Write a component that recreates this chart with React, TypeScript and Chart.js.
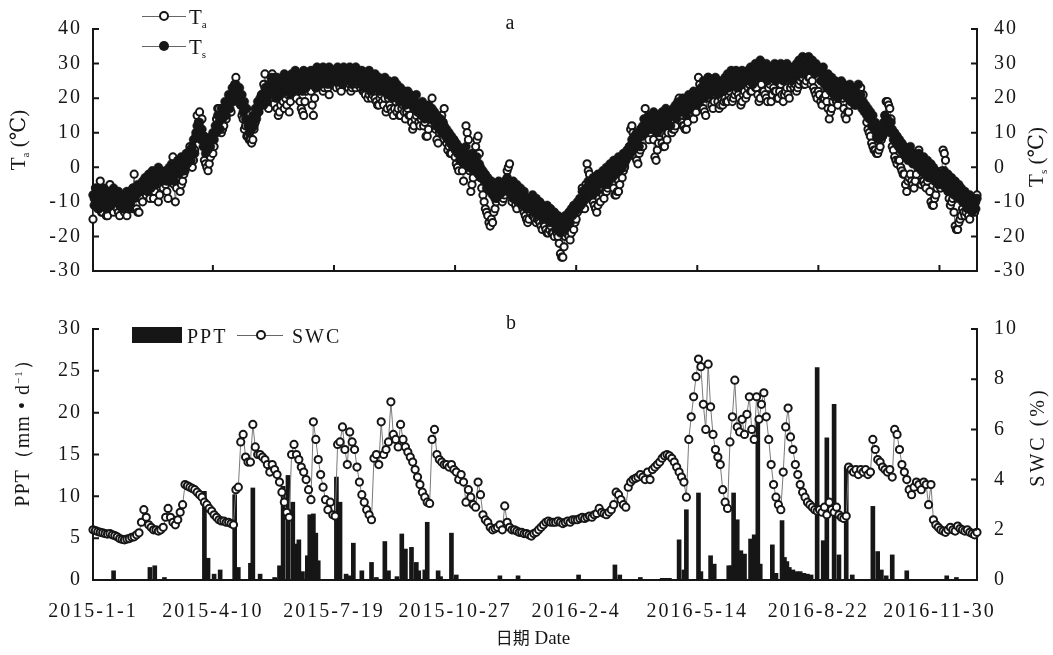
import React, { useEffect, useRef } from "react";
import { Chart, registerables } from "chart.js";

Chart.register(...registerables);

// ---- data ----
// day 0 = 2015-1-1; temperatures are daily, soil water content every second day
const TEMP_STEP = 1;
const SWC_STEP = 2;
const TICK_DAYS = [0, 99, 199, 299, 399, 499, 599, 699];
const TICK_LABELS = ["2015-1-1", "2015-4-10", "2015-7-19", "2015-10-27", "2016-2-4", "2016-5-14", "2016-8-22", "2016-11-30"];

// soil temperature (°C), daily
const TS = [
  /*0*/ -8, -11, -9, -6, -10, -12, -7, -9, -11, -6, -8, -12, -10, -7, -9, -11, -8, -6, -10, -9,
  /*20*/ -10, -7, -11, -9, -12, -8, -10, -11, -7, -9, -12, -10, -8, -6, -9, -7, -8, -5, -7, -6,
  /*40*/ -7, -4, -6, -3, -5, -7, -2, -4, -6, -1, -3, -5, -2, -4, 0, -3, -1, -4, -2, -3,
  /*60*/ -1, -4, -2, 0, -3, 1, -2, -4, 0, -1, 2, -2, 0, 3, 1, -1, 2, 4, 1, 3,
  /*80*/ 5, 2, 6, 8, 4, 10, 12, 9, 13, 8, 11, 6, 9, 4, 7, 5, 8, 6, 9, 10,
  /*100*/ 8, 12, 10, 15, 13, 11, 17, 14, 16, 19, 15, 18, 21, 17, 20, 23, 19, 22, 24, 21,
  /*120*/ 20, 23, 18, 21, 16, 19, 14, 17, 12, 10, 13, 11, 15, 12, 17, 14, 19, 16, 20, 18,
  /*140*/ 21, 18, 23, 20, 19, 24, 22, 26, 21, 25, 23, 20, 26, 22, 24, 21, 25, 23, 27, 22,
  /*160*/ 26, 23, 25, 21, 27, 24, 22, 28, 25, 23, 27, 24, 26, 22, 28, 25, 23, 27, 24, 26,
  /*180*/ 28, 24, 27, 25, 23, 29, 26, 28, 24, 27, 29, 25, 28, 26, 24, 29, 27, 25, 28, 26,
  /*200*/ 28, 25, 29, 27, 26, 28, 24, 29, 27, 25, 28, 26, 29, 27, 24, 28, 26, 29, 25, 27,
  /*220*/ 27, 24, 28, 25, 23, 27, 26, 24, 28, 25, 22, 26, 24, 27, 23, 25, 26, 22, 24, 25,
  /*240*/ 23, 26, 24, 21, 25, 22, 24, 20, 23, 25, 21, 24, 22, 19, 23, 21, 20, 22, 18, 21,
  /*260*/ 22, 19, 21, 18, 20, 17, 19, 21, 16, 18, 17, 15, 19, 16, 14, 17, 15, 18, 14, 16,
  /*280*/ 17, 14, 16, 12, 15, 13, 11, 14, 10, 13, 12, 9, 11, 8, 10, 7, 9, 6, 8, 5,
  /*300*/ 7, 4, 6, 2, 5, 3, 1, 4, 6, 2, 0, 3, 1, 4, -1, 2, 0, 3, -2, 1,
  /*320*/ 0, -3, -1, -4, -2, -6, -3, -5, -7, -4, -8, -6, -9, -5, -7, -4, -8, -6, -5, -7,
  /*340*/ -4, -6, -3, -7, -5, -8, -6, -4, -9, -7, -5, -10, -8, -6, -9, -11, -7, -10, -12, -9,
  /*360*/ -9, -12, -10, -8, -13, -11, -9, -12, -14, -10, -13, -11, -15, -12, -14, -11, -13, -16, -12, -14,
  /*380*/ -16, -13, -15, -18, -14, -17, -19, -15, -16, -18, -14, -17, -15, -13, -16, -12, -14, -11, -13, -12,
  /*400*/ -10, -12, -9, -11, -7, -10, -8, -6, -9, -4, -7, -5, -8, -3, -6, -4, -7, -2, -5, -3,
  /*420*/ -4, -1, -3, -5, 0, -2, -4, 1, -1, -3, 2, 0, -2, 1, 3, -1, 2, 0, 4, 1,
  /*440*/ 2, 5, 3, 6, 4, 8, 5, 9, 7, 10, 8, 6, 11, 9, 12, 14, 10, 13, 11, 15,
  /*460*/ 14, 11, 13, 16, 12, 15, 10, 13, 11, 14, 16, 12, 15, 17, 13, 14, 16, 12, 15, 17,
  /*480*/ 15, 18, 14, 17, 19, 16, 18, 20, 17, 19, 15, 18, 21, 17, 20, 19, 22, 18, 21, 20,
  /*500*/ 22, 19, 23, 21, 25, 20, 24, 22, 26, 21, 23, 25, 22, 24, 26, 23, 21, 25, 22, 24,
  /*520*/ 25, 22, 26, 24, 27, 23, 26, 28, 24, 27, 25, 28, 23, 26, 27, 24, 28, 25, 27, 26,
  /*540*/ 25, 28, 26, 29, 27, 24, 28, 30, 26, 29, 27, 31, 28, 26, 29, 27, 30, 25, 28, 27,
  /*560*/ 29, 26, 28, 30, 25, 27, 29, 26, 30, 28, 25, 29, 27, 30, 26, 28, 27, 25, 29, 27,
  /*580*/ 27, 30, 28, 31, 29, 27, 32, 30, 28, 31, 29, 32, 30, 28, 31, 29, 27, 30, 28, 29,
  /*600*/ 28, 25, 27, 29, 24, 26, 23, 27, 25, 22, 26, 24, 21, 25, 23, 20, 24, 22, 25, 21,
  /*620*/ 24, 21, 23, 20, 22, 24, 19, 23, 21, 18, 22, 20, 24, 19, 21, 17, 19, 16, 18, 15,
  /*640*/ 17, 14, 16, 12, 15, 11, 13, 9, 11, 8, 10, 12, 9, 13, 15, 11, 14, 12, 10, 13,
  /*660*/ 11, 8, 10, 7, 9, 6, 8, 5, 7, 4, 6, 3, 5, 2, 4, 6, 3, 1, 4, 2,
  /*680*/ 3, 0, 4, 2, -1, 1, 3, -2, 0, 2, -1, -3, 1, -2, 0, -4, -1, -3, -5, -2,
  /*700*/ -2, -5, -3, -1, -6, -4, -2, -7, -5, -3, -6, -8, -4, -7, -9, -5, -8, -6, -10, -7,
  /*720*/ -7, -11, -9, -12, -8, -10, -13, -9, -11, -12, -9,
];

// air temperature (°C), daily
const TA = [
  /*0*/ -15, -9, -6, -11, -12, -8, -4, -13, -13, -10, -10, -14, -14, -9, -5, -12, -12, -13, -11, -9,
  /*20*/ -12, -13, -14, -11, -9, -12, -13, -10, -14, -12, -10, -11, -12, -6, -2, -8, -12, -13, -13, -9,
  /*40*/ -9, -10, -7, -5, -8, -7, -6, -9, -4, -6, -9, -7, -5, -4, -10, -8, -3, -5, -6, -4,
  /*60*/ -5, -7, -9, -4, -3, -1, 3, -5, -10, -6, -2, -3, -7, -5, -4, -2, -1, 1, 4, 3,
  /*80*/ 6, 3, 0, 2, 5, 9, 15, 13, 16, 11, 14, 8, 2, 1, 0, -1, 1, 3, 5, 4,
  /*100*/ 6, 10, 14, 17, 17, 13, 10, 11, 12, 15, 14, 17, 19, 16, 16, 20, 21, 24, 26, 23,
  /*120*/ 22, 20, 18, 15, 14, 11, 12, 9, 9, 8, 8, 7, 8, 11, 13, 15, 16, 18, 19, 21,
  /*140*/ 20, 24, 27, 22, 18, 17, 20, 22, 27, 25, 26, 22, 17, 15, 16, 18, 21, 19, 17, 20,
  /*160*/ 18, 21, 16, 19, 22, 24, 25, 21, 20, 23, 24, 19, 17, 16, 15, 19, 22, 24, 25, 23,
  /*180*/ 22, 18, 15, 20, 23, 24, 25, 26, 27, 24, 22, 23, 25, 24, 23, 21, 26, 24, 24, 25,
  /*200*/ 24, 23, 25, 24, 23, 22, 24, 25, 26, 24, 25, 23, 24, 22, 23, 24, 25, 23, 24, 25,
  /*220*/ 25, 23, 24, 22, 22, 21, 23, 20, 21, 22, 20, 21, 22, 20, 19, 18, 18, 20, 21, 19,
  /*240*/ 18, 20, 16, 17, 20, 18, 17, 16, 15, 17, 19, 16, 17, 15, 15, 17, 18, 16, 14, 16,
  /*260*/ 17, 15, 15, 13, 11, 12, 14, 15, 16, 13, 12, 14, 15, 12, 13, 9, 9, 11, 14, 17,
  /*280*/ 20, 16, 13, 11, 8, 7, 10, 12, 15, 13, 17, 11, 7, 5, 6, 4, 4, 6, 8, 3,
  /*300*/ 1, 0, -1, 2, 2, -1, -4, 3, 12, 10, 8, -1, -7, -5, -3, 2, 6, 8, 9, 4,
  /*320*/ -3, -6, -8, -10, -12, -13, -14, -16, -17, -15, -16, -13, -12, -10, -9, -7, -6, -8, -10, -9,
  /*340*/ -8, -4, -1, 0, 1, -5, -10, -9, -9, -11, -12, -10, -8, -9, -11, -12, -13, -14, -15, -16,
  /*360*/ -15, -13, -12, -14, -14, -15, -16, -15, -15, -16, -17, -18, -16, -17, -18, -19, -19, -18, -17, -19,
  /*380*/ -19, -20, -18, -19, -20, -22, -25, -26, -26, -23, -20, -19, -18, -20, -21, -19, -17, -18, -16, -15,
  /*400*/ -13, -11, -10, -12, -6, -9, -12, -5, 1, -1, -2, -6, -8, -10, -11, -12, -13, -11, -9, -10,
  /*420*/ -6, -8, -9, -7, -7, -6, -5, -4, -3, -5, -6, -8, -8, -7, -7, -5, -2, -3, -1, 0,
  /*440*/ 2, 3, 4, 6, 11, 12, 10, 8, 3, 2, 1, 4, 5, 6, 6, 12, 17, 14, 9, 8,
  /*460*/ 10, 11, 12, 8, 3, 2, 5, 7, 9, 10, 7, 6, 6, 9, 8, 10, 12, 13, 10, 11,
  /*480*/ 11, 12, 17, 19, 20, 16, 13, 12, 12, 11, 11, 13, 15, 16, 18, 15, 14, 16, 16, 18,
  /*500*/ 26, 24, 20, 17, 17, 16, 15, 20, 26, 24, 22, 18, 17, 19, 21, 22, 19, 17, 18, 20,
  /*520*/ 18, 19, 20, 19, 19, 21, 22, 20, 19, 20, 21, 22, 23, 21, 20, 18, 19, 21, 22, 20,
  /*540*/ 21, 23, 24, 22, 22, 24, 25, 23, 23, 21, 19, 20, 24, 22, 22, 21, 20, 19, 23, 24,
  /*560*/ 19, 21, 23, 22, 22, 20, 20, 22, 24, 21, 19, 21, 22, 23, 21, 20, 23, 24, 25, 23,
  /*580*/ 24, 22, 23, 24, 25, 26, 26, 24, 24, 25, 27, 26, 26, 24, 25, 23, 22, 21, 20, 22,
  /*600*/ 21, 19, 18, 20, 20, 21, 19, 17, 14, 16, 17, 19, 21, 20, 19, 18, 20, 21, 22, 20,
  /*620*/ 17, 15, 14, 16, 16, 18, 19, 20, 20, 19, 18, 20, 22, 23, 23, 21, 21, 18, 16, 13,
  /*640*/ 11, 10, 9, 7, 6, 5, 5, 4, 4, 5, 6, 8, 9, 12, 15, 19, 19, 18, 17, 14,
  /*660*/ 6, 5, 3, 2, 1, 2, 2, 0, -1, -2, -2, -5, -7, -4, -3, -2, -4, -5, -6, -4,
  /*680*/ -2, 1, 5, 0, -5, -4, -4, -5, -6, -4, -3, -7, -10, -11, -11, -9, -8, -6, -4, -5,
  /*700*/ -6, -1, 5, 4, 2, -3, -7, -9, -11, -10, -9, -13, -17, -18, -18, -16, -15, -14, -12, -13,
  /*720*/ -14, -13, -12, -14, -15, -12, -10, -12, -13, -10, -8,
];

// soil water content (%), every second day
const SWC = [
  2.0, 1.97, 1.93, 1.9, 1.88, 1.85, 1.83, 1.85, 1.8, 1.77,
  1.72, 1.65, 1.62, 1.6, 1.63, 1.65, 1.7, 1.72, 1.8, 1.88,
  2.3, 2.8, 2.5, 2.2, 2.1, 2.0, 2.0, 1.95, 2.0, 2.1,
  2.5, 2.85, 2.5, 2.3, 2.2, 2.4, 2.7, 3.0, 3.8, 3.75,
  3.7, 3.65, 3.6, 3.5, 3.4, 3.3, 3.1, 3.0, 2.85, 2.75,
  2.6, 2.5, 2.4, 2.35, 2.35, 2.3, 2.3, 2.25, 2.2, 3.6,
  3.7, 5.5, 5.8, 4.9, 4.7, 4.7, 6.2, 5.3, 5.0, 5.0,
  4.9, 4.8, 4.6, 4.3, 4.6, 4.4, 4.2, 3.9, 3.5, 3.1,
  2.7, 2.5, 5.0, 5.4, 5.0, 4.8, 4.5, 4.3, 4.0, 3.6,
  3.2, 6.3, 5.6, 4.8, 4.2, 3.7, 3.2, 2.8, 3.1, 2.6,
  2.55, 5.4, 5.5, 6.1, 5.2, 4.6, 5.9, 5.5, 5.2, 4.5,
  3.9, 3.4, 3.1, 2.8, 2.6, 2.4, 4.85, 5.0, 4.6, 6.3,
  5.0, 5.2, 5.5, 7.1, 5.8, 5.6, 5.3, 6.2, 5.6, 5.3,
  5.1, 4.9, 4.7, 4.4, 4.1, 3.8, 3.5, 3.3, 3.1, 3.05,
  5.6, 6.0, 5.0, 4.8, 4.7, 4.6, 4.6, 4.5, 4.6, 4.4,
  4.3, 4.0, 4.2, 3.9, 3.1, 3.6, 3.3, 3.0, 2.9, 3.9,
  3.4, 2.6, 2.4, 2.3, 2.1, 2.0, 2.05, 2.1, 2.2, 2.0,
  2.95, 2.3, 2.1, 2.0, 2.0, 1.95, 1.9, 1.9, 1.85, 1.85,
  1.8, 1.75, 1.85, 1.9, 2.0, 2.1, 2.2, 2.3, 2.35, 2.3,
  2.3, 2.3, 2.35, 2.3, 2.25, 2.3, 2.35, 2.3, 2.4, 2.4,
  2.4, 2.45, 2.5, 2.45, 2.5, 2.55, 2.5, 2.6, 2.65, 2.85,
  2.7, 2.65, 2.6, 2.7, 2.8, 3.0, 3.5, 3.4, 3.2, 3.0,
  2.9, 3.7, 3.9, 4.0, 4.05, 4.1, 4.2, 4.1, 4.0, 4.3,
  4.0, 4.4, 4.5, 4.6, 4.7, 4.85, 4.95, 5.0, 4.95, 4.85,
  4.7, 4.5, 4.3, 4.1, 3.9, 3.3, 5.6, 6.5, 7.3, 8.1,
  8.8, 8.5, 7.0, 6.0, 8.6, 6.9, 5.8, 5.2, 4.9, 4.6,
  3.6, 3.1, 2.85, 5.5, 6.5, 7.96, 6.1, 5.9, 6.4, 5.8,
  6.6, 7.3, 6.0, 5.6, 7.3, 6.4, 7.0, 7.46, 6.5, 5.6,
  4.6, 3.8, 3.3, 3.0, 2.8, 4.3, 6.1, 6.85, 5.7, 5.2,
  4.6, 4.2, 3.8, 3.5, 3.3, 3.1, 3.0, 2.9, 2.8, 2.75,
  2.8, 2.7, 2.9, 2.6, 3.1, 2.8, 2.7, 2.9, 2.6, 2.5,
  2.45, 2.55, 4.5, 4.4, 4.3, 4.4, 4.2, 4.4, 4.3, 4.4,
  4.2, 4.3, 5.6, 5.2, 4.8, 4.7, 4.5, 4.4, 4.3, 4.4,
  4.1, 6.0, 5.8, 5.2, 4.6, 4.3, 4.0, 3.6, 3.4, 3.7,
  3.9, 3.8, 3.6, 3.9, 3.8, 3.0, 3.8, 2.4, 2.2, 2.1,
  2.0, 1.95, 1.9, 2.0, 2.1, 2.0, 1.95, 2.15, 2.05, 2.0,
  1.95, 2.0, 1.9, 1.85, 1.8, 1.9,
];

// daily precipitation (mm/d) on rainy days
const PPT_DAYS = [
  17, 47, 51, 59, 92, 95, 100, 105, 117, 120, 130, 132, 138, 150, 154, 157, 161, 165, 167, 170,
  173, 177, 179, 182, 184, 186, 201, 204, 209, 212, 215, 222, 230, 234, 241, 244, 251, 255, 258, 263,
  267, 269, 274, 276, 285, 287, 296, 300, 336, 351, 401, 431, 435, 452, 470, 473, 476, 484, 488, 490,
  500, 502, 510, 513, 525, 527, 529, 532, 535, 538, 543, 546, 549, 551, 561, 564, 569, 571, 573, 575,
  578, 581, 584, 587, 590, 593, 598, 603, 606, 612, 616, 622, 627, 644, 648, 651, 655, 660, 672, 705, 713,
];
const PPT_MM = [
  1.1, 1.5, 1.7, 0.3, 10.6, 2.6, 0.7, 1.2, 10.2, 1.5, 2.0, 11.0, 0.7, 0.3, 1.7, 11.2, 12.5, 9.3, 4.3, 4.8,
  1.0, 2.9, 7.8, 7.9, 5.6, 2.3, 12.3, 9.3, 0.7, 0.5, 4.4, 1.1, 2.1, 0.3, 4.6, 1.1, 0.4, 5.5, 3.7, 3.9,
  2.1, 1.1, 1.2, 6.9, 1.1, 0.4, 5.6, 0.6, 0.5, 0.5, 0.6, 1.8, 0.6, 0.3, 0.2, 0.2, 0.2, 4.8, 1.2, 8.4,
  10.4, 1.0, 2.9, 1.9, 1.7, 1.7, 10.4, 7.2, 3.5, 3.1, 4.9, 5.4, 19.5, 1.9, 4.2, 0.8, 7.1, 2.7, 2.2, 1.5,
  1.2, 1.0, 1.0, 0.8, 0.7, 0.6, 25.4, 4.7, 17.0, 21.0, 3.0, 13.5, 0.6, 8.8, 3.4, 1.2, 0.5, 3.0, 1.1, 0.5, 0.3,
];

// ---- style ----
const SERIF = "'Liberation Serif','Times New Roman','DejaVu Serif',serif";
const INK = "#161616";
const W = 1053;
const LEFT_W = 93;
const RIGHT_W = 76;

const series = (vals: number[], step: number) => vals.map((v, i) => ({ x: i * step, y: v }));

const frameTicks = {
  id: "frameTicks",
  beforeDraw(chart: any) {
    chart.ctx.letterSpacing = "2px";
  },
  afterDraw(chart: any, _args: any, opts: any) {
    const { ctx, chartArea: a } = chart;
    const L = 6;
    ctx.save();
    ctx.strokeStyle = INK;
    ctx.lineWidth = 2;
    ctx.beginPath();
    const l = chart.scales[opts.left];
    l.ticks.forEach((t: any) => {
      const y = l.getPixelForValue(t.value);
      ctx.moveTo(a.left, y);
      ctx.lineTo(a.left + L, y);
    });
    const r = chart.scales[opts.right];
    r.ticks.forEach((t: any) => {
      const y = r.getPixelForValue(t.value);
      ctx.moveTo(a.right, y);
      ctx.lineTo(a.right - L, y);
    });
    if (opts.bottom) {
      const x = chart.scales.x;
      x.ticks.forEach((t: any) => {
        if (t.value === 0) return;
        const px = x.getPixelForValue(t.value);
        ctx.moveTo(px, a.bottom);
        ctx.lineTo(px, a.bottom - L);
      });
    }
    ctx.stroke();
    ctx.restore();
  },
};

const tickFont = { family: SERIF, size: 20 };
const border = { display: true, color: INK, width: 2 };
const noGrid = { display: false, drawTicks: false };
const setTicks = (s: any) => {
  s.ticks = TICK_DAYS.map((v) => ({ value: v }));
};

export default function App() {
  const refA = useRef<HTMLCanvasElement>(null);
  const refB = useRef<HTMLCanvasElement>(null);

  useEffect(() => {
    const chartA = new Chart(refA.current as HTMLCanvasElement, {
      type: "line",
      data: {
        datasets: [
          {
            label: "Ts",
            data: series(TS, TEMP_STEP),
            yAxisID: "y2",
            order: 0,
            borderColor: "#4a4a4a",
            borderWidth: 1,
            pointRadius: 4.4,
            pointBackgroundColor: INK,
            pointBorderColor: INK,
            pointBorderWidth: 0.5,
            clip: false,
          } as any,
          {
            label: "Ta",
            data: series(TA, TEMP_STEP),
            yAxisID: "y",
            order: 1,
            borderColor: "#6a6a6a",
            borderWidth: 1,
            pointRadius: 3.6,
            pointBackgroundColor: "#ffffff",
            pointBorderColor: INK,
            pointBorderWidth: 2,
            clip: false,
          } as any,
        ],
      },
      options: {
        animation: false,
        responsive: false,
        events: [],
        layout: { padding: { top: 20, left: 0, right: 0, bottom: 0 } },
        plugins: {
          legend: { display: false },
          tooltip: { enabled: false },
          frameTicks: { left: "y", right: "y2", bottom: true },
        } as any,
        scales: {
          x: {
            type: "linear",
            min: 0,
            max: 730,
            afterBuildTicks: setTicks,
            ticks: { display: false },
            grid: noGrid,
            border,
            afterFit: (s: any) => {
              s.height = 15;
            },
          },
          y: {
            position: "left",
            min: -30,
            max: 40,
            ticks: { stepSize: 10, padding: 11, font: tickFont, color: INK },
            grid: noGrid,
            border,
            afterFit: (s: any) => {
              s.width = LEFT_W;
            },
          },
          y2: {
            position: "right",
            min: -30,
            max: 40,
            ticks: { stepSize: 10, padding: 17, font: tickFont, color: INK },
            grid: noGrid,
            border,
            afterFit: (s: any) => {
              s.width = RIGHT_W;
            },
          },
        } as any,
      },
      plugins: [frameTicks as any],
    });

    const chartB = new Chart(refB.current as HTMLCanvasElement, {
      type: "bar",
      data: {
        datasets: [
          {
            type: "line",
            label: "SWC",
            data: series(SWC, SWC_STEP),
            yAxisID: "y1",
            order: 0,
            borderColor: "#7a7a7a",
            borderWidth: 1,
            pointRadius: 3.6,
            pointBackgroundColor: "#ffffff",
            pointBorderColor: INK,
            pointBorderWidth: 2,
            clip: false,
          } as any,
          {
            type: "bar",
            label: "PPT",
            data: PPT_DAYS.map((d, i) => ({ x: d, y: PPT_MM[i] })),
            yAxisID: "y",
            order: 1,
            backgroundColor: INK,
            borderWidth: 0,
            barThickness: 4,
            grouped: false,
          } as any,
        ],
      },
      options: {
        animation: false,
        responsive: false,
        events: [],
        layout: { padding: { top: 12, left: 0, right: 0, bottom: 0 } },
        plugins: {
          legend: { display: false },
          tooltip: { enabled: false },
          frameTicks: { left: "y", right: "y1", bottom: false },
        } as any,
        scales: {
          x: {
            type: "linear",
            min: 0,
            max: 730,
            offset: false,
            afterBuildTicks: setTicks,
            ticks: {
              callback: (_v: any, i: number) => TICK_LABELS[i] ?? "",
              font: tickFont,
              color: INK,
              padding: 20,
              maxRotation: 0,
              autoSkip: false,
            },
            grid: noGrid,
            border,
            afterFit: (s: any) => {
              s.height = 75;
            },
          },
          y: {
            position: "left",
            min: 0,
            max: 30,
            ticks: { stepSize: 5, padding: 11, font: tickFont, color: INK },
            grid: noGrid,
            border,
            afterFit: (s: any) => {
              s.width = LEFT_W;
            },
          },
          y1: {
            position: "right",
            min: 0,
            max: 10,
            ticks: { stepSize: 2, padding: 17, font: tickFont, color: INK },
            grid: noGrid,
            border,
            afterFit: (s: any) => {
              s.width = RIGHT_W;
            },
          },
        } as any,
      },
      plugins: [frameTicks as any],
    });

    return () => {
      chartA.destroy();
      chartB.destroy();
    };
  }, []);

  const abs = (x: number, y: number, extra: React.CSSProperties = {}): React.CSSProperties => ({
    position: "absolute",
    left: x,
    top: y,
    transform: "translate(-50%,-50%)",
    whiteSpace: "nowrap",
    lineHeight: 1,
    ...extra,
  });
  const rot = (x: number, y: number, extra: React.CSSProperties = {}): React.CSSProperties =>
    abs(x, y, { transform: "translate(-50%,-50%) rotate(-90deg)", ...extra });
  const leftMid = (x: number, y: number, extra: React.CSSProperties = {}): React.CSSProperties => ({
    position: "absolute",
    left: x,
    top: y,
    transform: "translateY(-50%)",
    whiteSpace: "nowrap",
    lineHeight: 1,
    ...extra,
  });
  const sub: React.CSSProperties = { fontSize: 11, verticalAlign: "-4px" };
  const line = (x: number, y: number, w: number): React.CSSProperties => ({
    position: "absolute",
    left: x,
    top: y,
    width: w,
    height: 0,
    borderTop: "1px solid #666",
  });
  const dot = (x: number, y: number, filled: boolean): React.CSSProperties => ({
    position: "absolute",
    left: x - 5,
    top: y - 5,
    width: filled ? 10 : 6,
    height: filled ? 10 : 6,
    borderRadius: "50%",
    background: filled ? INK : "#fff",
    border: filled ? "none" : `2px solid ${INK}`,
  });

  return (
    <div
      style={{
        position: "absolute",
        left: 0,
        top: 0,
        width: W,
        height: 655,
        background: "#fff",
        fontFamily: SERIF,
        color: INK,
        overflow: "hidden",
      }}
    >
      <canvas ref={refA} width={W} height={300} style={{ position: "absolute", left: 0, top: 0 }} />
      <canvas ref={refB} width={W} height={355} style={{ position: "absolute", left: 0, top: 300 }} />

      {/* panel labels */}
      <div style={abs(510, 22, { fontSize: 20 })}>a</div>
      <div style={abs(511, 322, { fontSize: 20 })}>b</div>

      {/* top legend */}
      <div style={line(142, 16, 44)} />
      <div style={dot(164, 16, false)} />
      <div style={leftMid(189, 18, { fontSize: 21 })}>
        T<span style={sub}>a</span>
      </div>
      <div style={line(142, 46, 44)} />
      <div style={dot(164, 46, true)} />
      <div style={leftMid(189, 48, { fontSize: 21 })}>
        T<span style={sub}>s</span>
      </div>

      {/* bottom legend */}
      <div style={{ position: "absolute", left: 132, top: 327, width: 50, height: 16, background: INK }} />
      <div style={leftMid(187, 336, { fontSize: 20, letterSpacing: 2 })}>PPT</div>
      <div style={line(237, 335, 46)} />
      <div style={dot(261, 335, false)} />
      <div style={leftMid(292, 336, { fontSize: 20, letterSpacing: 2 })}>SWC</div>

      {/* axis titles */}
      <div style={rot(19, 140, { fontSize: 21 })}>
        T<span style={sub}>a</span> (℃)
      </div>
      <div style={rot(1037, 157, { fontSize: 21 })}>
        T<span style={sub}>s</span> (℃)
      </div>
      <div style={rot(22, 428, { fontSize: 20, letterSpacing: 1 })}>
        PPT（mm • d<span style={{ fontSize: 11, verticalAlign: "7px" }}>−1</span>）
      </div>
      <div style={rot(1037, 437, { fontSize: 20, letterSpacing: 3 })}>SWC (%)</div>
      <div style={abs(533, 637, { fontSize: 19 })}>
        <span style={{ fontFamily: "'Noto Sans CJK SC', sans-serif", fontSize: 17 }}>日期</span> Date
      </div>
    </div>
  );
}
